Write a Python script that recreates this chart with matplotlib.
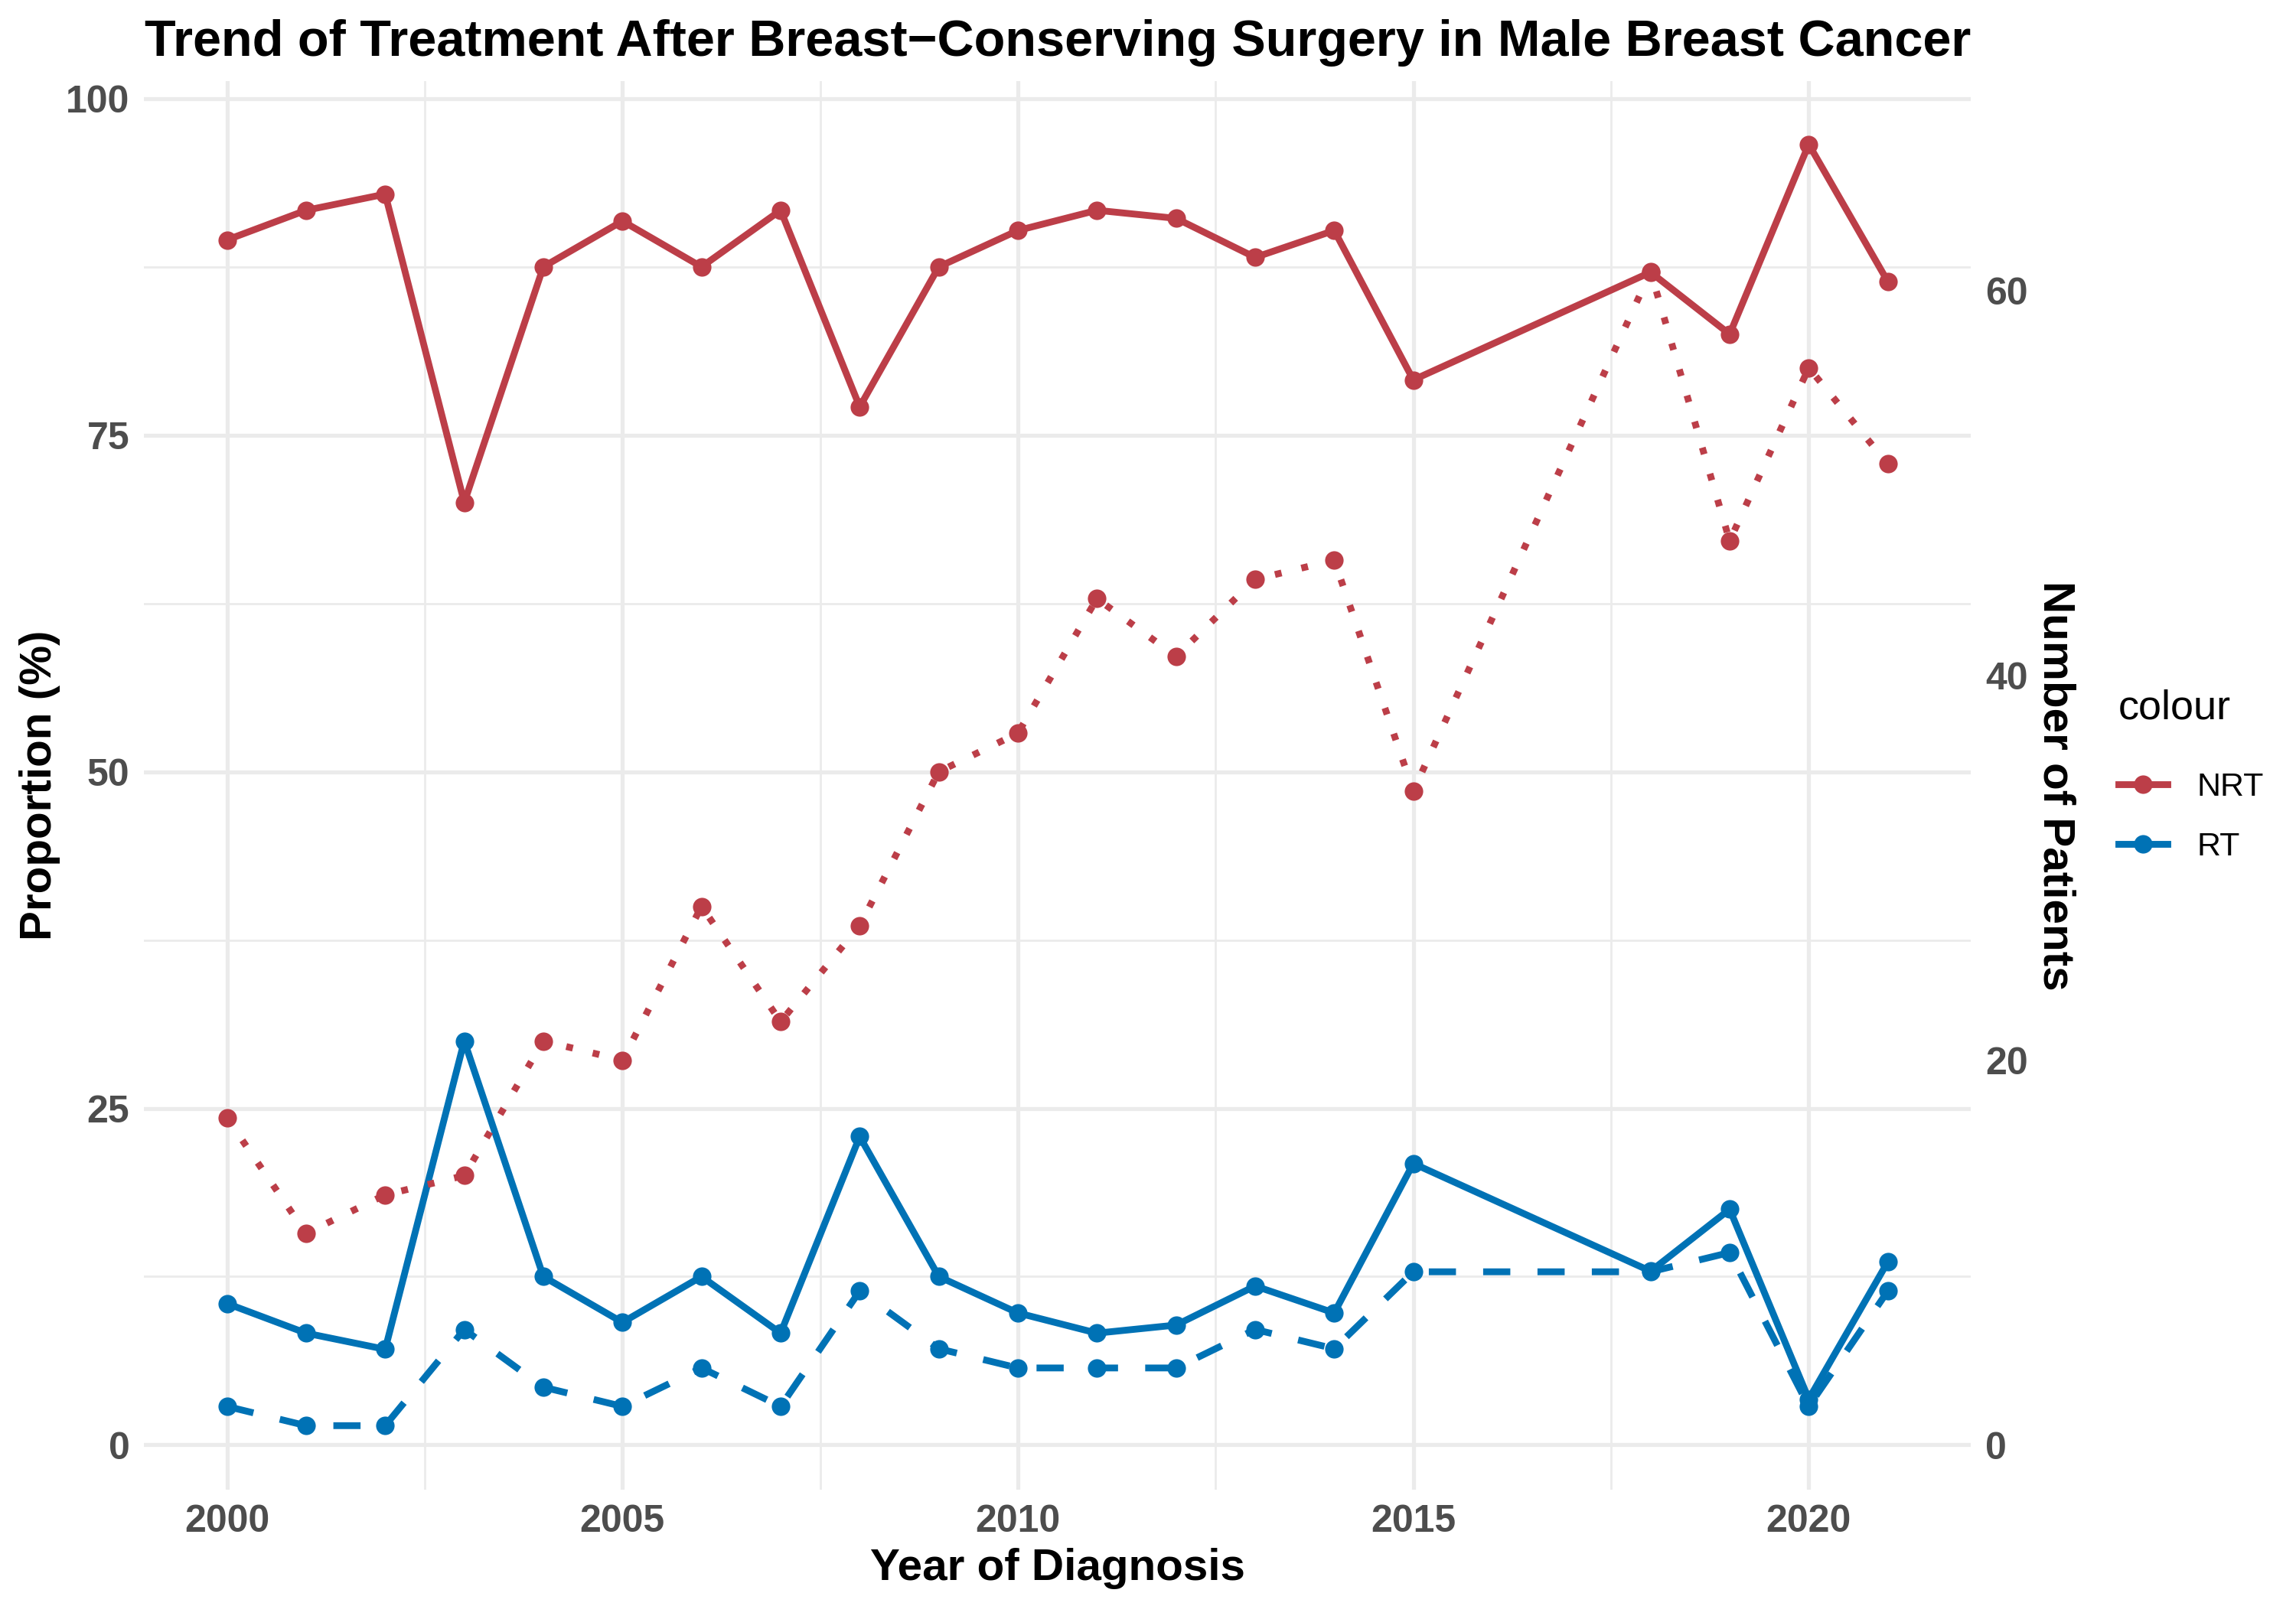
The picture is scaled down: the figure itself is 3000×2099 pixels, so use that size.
import matplotlib
matplotlib.use("Agg")
import matplotlib.pyplot as plt
from matplotlib.lines import Line2D
from matplotlib.ticker import FixedLocator

# data
years = [2000, 2001, 2002, 2003, 2004, 2005, 2006, 2007, 2008, 2009,
         2010, 2011, 2012, 2013, 2014, 2015, 2018, 2019, 2020, 2021]
nrt_prop = [89.5, 91.7, 92.9, 70.0, 87.5, 90.9, 87.5, 91.7, 77.1, 87.5,
            90.2, 91.7, 91.1, 88.2, 90.2, 79.1, 87.1, 82.5, 96.6, 86.4]
rt_prop = [10.5, 8.3, 7.1, 30.0, 12.5, 9.1, 12.5, 8.3, 22.9, 12.5,
           9.8, 8.3, 8.9, 11.8, 9.8, 20.9, 12.9, 17.5, 3.4, 13.6]
nrt_count = [17, 11, 13, 14, 21, 20, 28, 22, 27, 35,
             37, 44, 41, 45, 46, 34, 61, 47, 56, 51]
rt_count = [2, 1, 1, 6, 3, 2, 4, 2, 8, 5,
            4, 4, 4, 6, 5, 9, 9, 10, 2, 8]

red = "#BC3E48"
blue = "#0072B5"
grey_txt = "#4D4D4D"
grid_col = "#EBEBEB"
scale = 0.7  # right axis = left axis * 0.7

plt.rcParams["font.family"] = ["Liberation Sans", "DejaVu Sans"]

fig = plt.figure(figsize=(10, 6.997), dpi=300)
ax = fig.add_axes([0.0627, 0.0724, 0.7957, 0.8771])
ax2 = ax.twinx()

lw = 2.13
ms = 5.8

# proportions (solid)
ax.plot(years, nrt_prop, color=red, lw=lw, marker="o", ms=ms, mew=0, zorder=3)
ax.plot(years, rt_prop, color=blue, lw=lw, marker="o", ms=ms, mew=0, zorder=3)
# counts on right axis
ax2.plot(years, nrt_count, color=red, lw=lw, marker="o", ms=ms, mew=0,
         dashes=(1, 3), zorder=3)
ax2.plot(years, rt_count, color=blue, lw=lw, marker="o", ms=ms, mew=0,
         dashes=(4, 4), zorder=3)

ylo, yhi = -3.33, 101.3
ax.set_xlim(1998.95, 2022.05)
ax.set_ylim(ylo, yhi)
ax2.set_ylim(ylo * scale, yhi * scale)

ax.xaxis.set_major_locator(FixedLocator([2000, 2005, 2010, 2015, 2020]))
ax.xaxis.set_minor_locator(FixedLocator([2002.5, 2007.5, 2012.5, 2017.5]))
ax.yaxis.set_major_locator(FixedLocator([0, 25, 50, 75, 100]))
ax.yaxis.set_minor_locator(FixedLocator([12.5, 37.5, 62.5, 87.5]))
ax2.yaxis.set_major_locator(FixedLocator([0, 20, 40, 60]))

ax.grid(which="major", color=grid_col, lw=1.25)
ax.grid(which="minor", color=grid_col, lw=0.65)
ax.set_axisbelow(True)

for a in (ax, ax2):
    for s in a.spines.values():
        s.set_visible(False)
    a.tick_params(which="both", length=0, pad=4.5, labelsize=12,
                  labelcolor=grey_txt)
    for lab in a.get_xticklabels() + a.get_yticklabels():
        lab.set_fontweight("bold")

ax.set_xlabel("Year of Diagnosis", fontsize=14, fontweight="bold")
ax.xaxis.set_label_coords(0.5, -0.064)
ax.xaxis.label.set_va("baseline")
ax.set_ylabel("Proportion (%)", fontsize=14, fontweight="bold")
ax.yaxis.set_label_coords(-0.057, 0.5)
ax.yaxis.label.set_va("center")
ax2.set_ylabel("Number of Patients", fontsize=14, fontweight="bold",
               rotation=270)
ax2.yaxis.set_label_coords(1.046, 0.5)
ax2.yaxis.label.set_va("center")

fig.text(0.0627 + 0.7957 / 2, 0.9652,
         "Trend of Treatment After Breast\u2212Conserving Surgery in Male Breast Cancer",
         ha="center", va="baseline", fontsize=16, fontweight="bold")

handles = [Line2D([], [], color=red, lw=lw, marker="o", ms=ms, mew=0),
           Line2D([], [], color=blue, lw=lw, marker="o", ms=ms, mew=0)]
leg = fig.legend(handles, ["NRT", "RT"], title="colour", loc="center left",
                 bbox_to_anchor=(0.9225, 0.517), frameon=False,
                 fontsize=10.3, title_fontsize=13, handlelength=1.5,
                 handletextpad=0.9, labelspacing=0.9, borderpad=0,
                 borderaxespad=0, alignment="left")
leg._legend_box.sep = 14

fig.savefig("out.png", dpi=300)
